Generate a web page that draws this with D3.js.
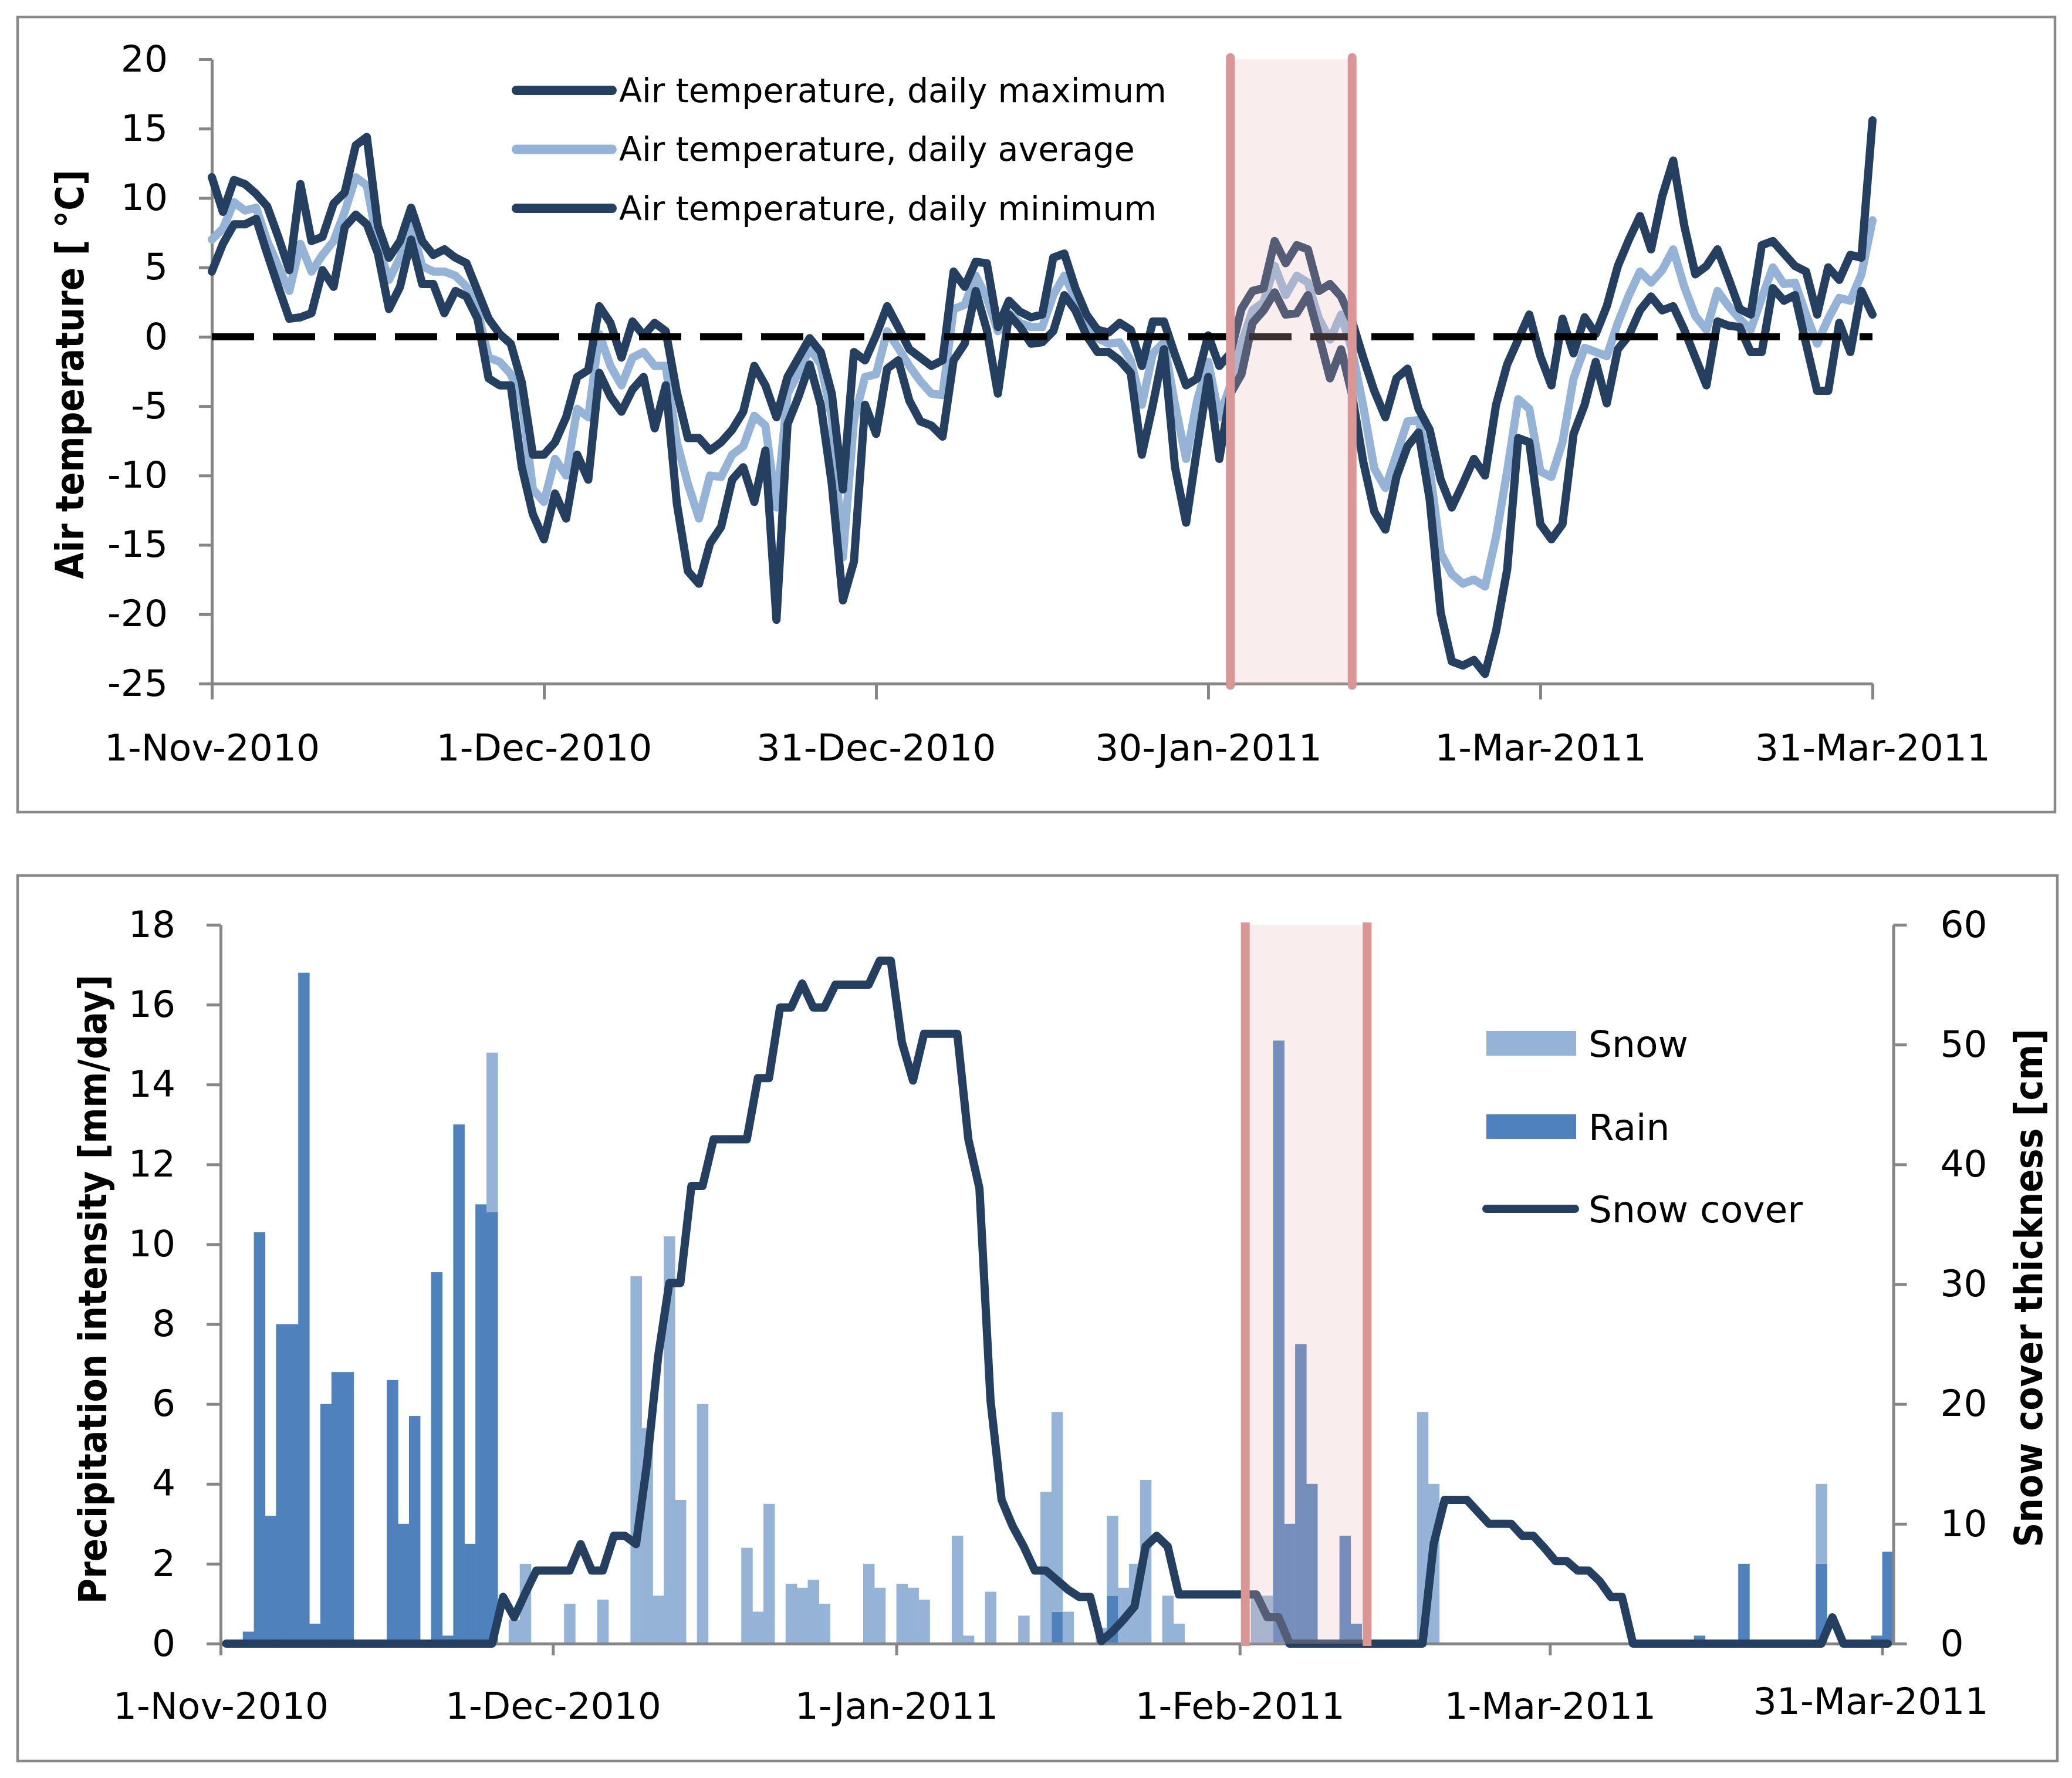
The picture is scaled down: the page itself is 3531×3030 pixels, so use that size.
<!DOCTYPE html>
<html>
<head>
<meta charset="utf-8">
<script src="https://cdn.jsdelivr.net/npm/d3@7"></script>
<style>body{margin:0;background:#fff}</style>
</head>
<body>
<svg id="chart" width="3531" height="3030"></svg>
<script>
// daily values, 1 Nov 2010 .. 31 Mar 2011 (151 days)
const tMax = [
  11.5, 9.0, 11.3, 11.0, 10.3, 9.4, 7.2, 4.8, 11.0, 6.9,
  7.2, 9.6, 10.4, 13.8, 14.4, 8.0, 5.7, 6.9, 9.3, 6.9,
  5.9, 6.3, 5.7, 5.3, 3.3, 1.3, 0.2, -0.5, -3.3, -8.5,
  -8.5, -7.6, -5.8, -2.9, -2.4, 2.2, 1.0, -1.5, 1.1, 0.1,
  1.0, 0.4, -4.0, -7.3, -7.3, -8.2, -7.6, -6.7, -5.4, -2.1,
  -3.5, -5.8, -2.9, -1.5, -0.1, -1.1, -4.1, -11.0, -1.1, -1.7,
  0.1, 2.2, 0.7, -0.9, -1.5, -2.1, -1.7, 4.7, 3.6, 5.4,
  5.3, 0.7, 2.6, 1.8, 1.4, 1.6, 5.7, 6.0, 3.5, 1.6,
  0.5, 0.3, 1.0, 0.5, -2.1, 1.1, 1.1, -1.3, -3.5, -3.0,
  0.1, -2.1, -1.2, 2.0, 3.3, 3.5, 6.9, 5.3, 6.6, 6.3,
  3.3, 3.8, 2.9, 1.1, -1.5, -3.9, -5.8, -3.0, -2.3, -5.2,
  -6.7, -10.3, -12.3, -10.6, -8.8, -10.0, -4.9, -2.0, -0.2, 1.6,
  -1.4, -3.5, 1.3, -1.2, 1.4, 0.2, 2.2, 5.1, 7.0, 8.7,
  6.3, 10.1, 12.7, 8.0, 4.5, 5.1, 6.3, 4.2, 2.0, 1.6,
  6.6, 6.9, 6.0, 5.1, 4.7, 1.6, 5.0, 4.1, 5.9, 5.7,
  15.6
];
const tAvg = [
  7.0, 7.8, 9.7, 9.1, 9.3, 6.9, 5.1, 3.3, 6.7, 4.7,
  5.9, 6.9, 9.0, 11.5, 10.9, 6.6, 4.1, 5.7, 8.1, 5.1,
  4.7, 4.7, 4.4, 3.6, 1.9, -1.5, -1.8, -2.7, -4.6, -11.0,
  -11.9, -8.8, -10.0, -5.2, -5.8, 0.2, -2.1, -3.5, -1.5, -1.1,
  -2.1, -2.1, -7.6, -10.6, -13.1, -10.0, -10.1, -8.5, -7.9, -5.7,
  -6.4, -12.3, -4.1, -2.6, -0.8, -2.0, -5.8, -15.9, -6.0, -2.9,
  -2.7, 0.4, -0.8, -2.1, -3.2, -4.1, -4.2, 2.0, 2.3, 4.4,
  2.8, 0.4, 1.7, 1.0, 0.7, 0.7, 3.0, 4.4, 2.8, 0.7,
  -0.1, -0.5, -0.4, -1.7, -4.9, -1.2, -0.4, -4.9, -8.8, -4.6,
  -1.8, -5.8, -3.5, -0.5, 1.9, 2.5, 5.1, 3.0, 4.4, 3.9,
  1.3, -0.2, 1.6, -1.0, -5.0, -9.5, -10.9, -8.5, -6.1, -6.0,
  -9.5, -15.6, -17.1, -17.8, -17.5, -18.0, -14.4, -9.7, -4.5, -5.2,
  -9.7, -10.1, -7.6, -3.0, -0.8, -1.1, -1.4, 1.0, 3.0, 4.7,
  3.9, 4.8, 6.3, 3.6, 1.5, 0.5, 3.3, 2.2, 1.3, 0.5,
  2.8, 5.0, 3.8, 3.9, 1.6, -0.5, 1.3, 2.8, 2.6, 4.5,
  8.4
];
const tMin = [
  4.7, 6.7, 8.1, 8.1, 8.5, 6.0, 3.6, 1.3, 1.4, 1.7,
  4.8, 3.6, 7.9, 8.8, 8.1, 6.0, 2.0, 3.6, 7.0, 3.8,
  3.8, 1.7, 3.3, 2.9, 1.3, -3.0, -3.5, -3.5, -9.4, -12.8,
  -14.6, -11.3, -13.1, -8.5, -10.3, -2.6, -4.3, -5.4, -3.8, -2.9,
  -6.6, -3.5, -12.0, -16.9, -17.8, -14.9, -13.7, -10.3, -9.4, -11.9,
  -8.2, -20.4, -6.3, -4.3, -2.0, -4.9, -10.6, -19.0, -16.2, -4.9,
  -7.0, -2.3, -1.7, -4.6, -6.1, -6.4, -7.2, -1.7, -0.5, 3.3,
  0.5, -4.1, 1.6, 0.7, -0.5, -0.4, 0.4, 3.0, 1.9, 0.1,
  -1.1, -1.1, -1.7, -2.6, -8.5, -4.9, -0.9, -9.4, -13.4, -8.0,
  -2.9, -8.8, -4.1, -2.7, 1.0, 1.9, 3.2, 1.6, 1.7, 3.0,
  0.1, -3.0, -0.9, -4.2, -9.0, -12.6, -13.9, -10.1, -7.9, -6.9,
  -11.7, -19.9, -23.4, -23.7, -23.3, -24.3, -21.2, -16.8, -7.3, -7.6,
  -13.5, -14.6, -13.5, -7.0, -4.9, -1.8, -4.8, -0.9, 0.1, 1.9,
  2.9, 1.9, 2.2, 0.5, -1.5, -3.5, 1.1, 0.8, 0.7, -1.1,
  -1.1, 3.5, 2.6, 3.0, -0.5, -3.9, -3.9, 1.0, -1.1, 3.3,
  1.6
];

// precipitation [mm/day]
const rain = [
  0, 0, 0.3, 10.3, 3.2, 8.0, 8.0, 16.8, 0.5, 6.0,
  6.8, 6.8, 0, 0, 0, 6.6, 3.0, 5.7, 0, 9.3,
  0.2, 13.0, 2.5, 11.0, 10.8, 0, 0, 0, 0, 0,
  0, 0, 0, 0, 0, 0, 0, 0, 0, 0,
  0, 0, 0, 0, 0, 0, 0, 0, 0, 0,
  0, 0, 0, 0, 0, 0, 0, 0, 0, 0,
  0, 0, 0, 0, 0, 0, 0, 0, 0, 0,
  0, 0, 0, 0, 0, 0.8, 0, 0, 0, 0,
  1.2, 0, 0, 0, 0, 0, 0, 0, 0, 0,
  0, 0, 0, 0, 0, 15.1, 3.0, 7.5, 4.0, 0,
  0, 2.7, 0.5, 0, 0, 0, 0, 0, 0, 0,
  0, 0, 0, 0, 0, 0, 0, 0, 0, 0,
  0, 0, 0, 0, 0, 0, 0, 0, 0, 0,
  0, 0, 0, 0.2, 0, 0, 0, 2.0, 0, 0,
  0, 0, 0, 0, 2.0, 0, 0, 0, 0, 0.2,
  2.3
];
const snow = [
  0, 0, 0, 0, 0, 0, 0, 0, 0, 0,
  0, 0, 0, 0, 0, 0, 0, 0, 0, 0,
  0, 0, 0, 0, 4.0, 0, 0.6, 2.0, 0, 0,
  0, 1.0, 0, 0, 1.1, 0, 0, 9.2, 5.4, 1.2,
  10.2, 3.6, 0, 6.0, 0, 0, 0, 2.4, 0.8, 3.5,
  0, 1.5, 1.4, 1.6, 1.0, 0, 0, 0, 2.0, 1.4,
  0, 1.5, 1.4, 1.1, 0, 0, 2.7, 0.2, 0, 1.3,
  0, 0, 0.7, 0, 3.8, 5.0, 0.8, 0, 0, 0.4,
  2.0, 1.4, 2.0, 4.1, 0, 1.2, 0.5, 0, 0, 0,
  0, 0, 0, 1.2, 1.2, 0, 0, 0, 0, 0,
  0, 0, 0, 0, 0, 0, 0, 0, 5.8, 4.0,
  0, 0, 0, 0, 0, 0, 0, 0, 0, 0,
  0, 0, 0, 0, 0, 0, 0, 0, 0, 0,
  0, 0, 0, 0, 0, 0, 0, 0, 0, 0,
  0, 0, 0, 0, 2.0, 0, 0, 0, 0, 0,
  0
];
// snow cover thickness [cm]
const snowCover = [
  0, 0, 0, 0, 0, 0, 0, 0, 0, 0,
  0, 0, 0, 0, 0, 0, 0, 0, 0, 0,
  0, 0, 0, 0, 0, 3.9, 2.2, 4.2, 6.1, 6.1,
  6.1, 6.1, 8.3, 6.1, 6.1, 9.0, 9.0, 8.3, 15.1, 24.0,
  30.1, 30.1, 38.2, 38.2, 42.1, 42.1, 42.1, 42.1, 47.2, 47.2,
  53.1, 53.1, 55.1, 53.1, 53.1, 55.0, 55.0, 55.0, 55.0, 57.0,
  57.0, 50.2, 47.0, 50.9, 50.9, 50.9, 50.9, 42.1, 38.0, 20.3,
  12.0, 9.8, 8.1, 6.1, 6.1, 5.3, 4.5, 3.9, 3.9, 0.2,
  1.0, 2.0, 3.1, 8.1, 9.0, 8.1, 4.1, 4.1, 4.1, 4.1,
  4.1, 4.1, 4.1, 4.1, 2.2, 2.2, 0, 0, 0, 0,
  0, 0, 0, 0, 0, 0, 0, 0, 0, 8.3,
  12.0, 12.0, 12.0, 11.0, 10.0, 10.0, 10.0, 9.0, 9.0, 8.0,
  6.9, 6.9, 6.1, 6.1, 5.2, 3.9, 3.9, 0, 0, 0,
  0, 0, 0, 0, 0, 0, 0, 0, 0, 0,
  0, 0, 0, 0, 0, 2.2, 0, 0, 0, 0,
  0
];

const topTickDays = [0, 30, 60, 90, 120, 150];
const topTickLabels = ["1-Nov-2010", "1-Dec-2010", "31-Dec-2010", "30-Jan-2011", "1-Mar-2011", "31-Mar-2011"];
const botTickDays = [0, 30, 61, 92, 120, 150];
const botTickLabels = ["1-Nov-2010", "1-Dec-2010", "1-Jan-2011", "1-Feb-2011", "1-Mar-2011", "31-Mar-2011"];
const tempTicks = d3.range(-25, 21, 5);
const precipTicks = d3.range(0, 19, 2);
const coverTicks = d3.range(0, 61, 10);
const bandDays = [92, 103];   // 1 Feb .. 12 Feb
const tempLegend = ["Air temperature, daily maximum", "Air temperature, daily average", "Air temperature, daily minimum"];
const precipLegend = ["Snow", "Rain", "Snow cover"];

const grey = "#868686", navy = "#243F60", light = "#95B3D7", rainCol = "#4F81BD";
const bandLine = "#D99694", bandFill = "#E6B9B8";
const tickFont = "'DejaVu Sans', sans-serif";
const titleFont = "'DejaVu Sans Condensed', 'DejaVu Sans', sans-serif";
const plain = d => String(d);   // keep the hyphen minus of the original

const svg = d3.select("#chart");
svg.append("rect").attr("width", 3531).attr("height", 3030).attr("fill", "#fff");

// panel frames
svg.append("rect").attr("x", 30).attr("y", 29).attr("width", 3472).attr("height", 1355)
  .attr("fill", "none").attr("stroke", "#898989").attr("stroke-width", 4.5);
svg.append("rect").attr("x", 30).attr("y", 1492).attr("width", 3476).attr("height", 1509)
  .attr("fill", "none").attr("stroke", "#898989").attr("stroke-width", 4.5);

function styleAxis(g) {
  g.attr("font-family", tickFont).attr("font-size", 63);
  g.select(".domain").attr("stroke", grey).attr("stroke-width", 5);
  g.selectAll(".tick line").attr("stroke", grey).attr("stroke-width", 5);
  g.selectAll(".tick text").attr("fill", "#000");
}

function axisTitle(g, x, y, txt) {
  g.append("text")
    .attr("transform", `translate(${x},${y}) rotate(-90)`)
    .attr("text-anchor", "middle").attr("dy", "0.35em")
    .attr("font-family", titleFont).attr("font-stretch", "condensed")
    .attr("font-weight", "bold").attr("font-size", 65)
    .text(txt);
}

// ---------- top: air temperature ----------
const xT = d3.scaleLinear().domain([0, 150]).range([361, 3191]);
const yT = d3.scaleLinear().domain([-25, 20]).range([1165, 101]);
const gTop = svg.append("g");

gTop.append("g").attr("transform", "translate(361,0)")
  .call(d3.axisLeft(yT).tickValues(tempTicks).tickFormat(plain).tickSize(22).tickSizeOuter(0).tickPadding(53))
  .call(styleAxis);
gTop.append("g").attr("transform", "translate(0,1165)")
  .call(d3.axisBottom(xT).tickValues(topTickDays).tickFormat((d, i) => topTickLabels[i])
    .tickSize(27).tickSizeOuter(0).tickPadding(59))
  .call(styleAxis);

const lineT = d3.line().x((d, i) => xT(i)).y(d => yT(d));
[[tAvg, light], [tMax, navy], [tMin, navy]].forEach(([arr, c]) => {
  gTop.append("path").attr("d", lineT(arr))
    .attr("fill", "none").attr("stroke", c).attr("stroke-width", 14)
    .attr("stroke-linejoin", "round").attr("stroke-linecap", "round");
});

gTop.append("line")
  .attr("x1", xT(0)).attr("x2", xT(150)).attr("y1", yT(0)).attr("y2", yT(0))
  .attr("stroke", "#000").attr("stroke-width", 12).attr("stroke-dasharray", "72 32");

gTop.append("rect")
  .attr("x", xT(bandDays[0])).attr("width", xT(bandDays[1]) - xT(bandDays[0]))
  .attr("y", yT(20)).attr("height", yT(-25) - yT(20))
  .attr("fill", bandFill).attr("fill-opacity", 0.25);
bandDays.forEach(d => {
  gTop.append("line").attr("x1", xT(d)).attr("x2", xT(d)).attr("y1", yT(20) - 3).attr("y2", yT(-25) + 3)
    .attr("stroke", bandLine).attr("stroke-width", 15).attr("stroke-linecap", "round");
});

tempLegend.forEach((t, i) => {
  const y = 154 + i * 100.5;
  gTop.append("line").attr("x1", 880).attr("x2", 1043).attr("y1", y).attr("y2", y)
    .attr("stroke", i === 1 ? light : navy).attr("stroke-width", 16).attr("stroke-linecap", "round");
  gTop.append("text").attr("x", 1055).attr("y", y).attr("dy", "0.35em")
    .attr("font-family", tickFont).attr("font-size", 57).text(t);
});

axisTitle(gTop, 119, 638, "Air temperature [ °C]");

// ---------- bottom: precipitation and snow cover ----------
const xB = d3.scaleLinear().domain([0, 151]).range([376, 3226.5]);
const yB = d3.scaleLinear().domain([0, 18]).range([2801, 1576]);
const yC = d3.scaleLinear().domain([0, 60]).range([2801, 1576]);
const gBot = svg.append("g");

const table = rain.map((r, i) => ({ day: i, rain: r, snow: snow[i] }));
const stacked = d3.stack().keys(["rain", "snow"])(table);
gBot.selectAll("g.layer").data(stacked).join("g").attr("class", "layer")
  .attr("fill", d => d.key === "rain" ? rainCol : light)
  .selectAll("rect").data(d => d.filter(s => s[1] > s[0])).join("rect")
  .attr("x", s => xB(s.data.day))
  .attr("width", xB(1) - xB(0) + 0.6)
  .attr("y", s => yB(s[1]))
  .attr("height", s => yB(s[0]) - yB(s[1]));

gBot.append("g").attr("transform", "translate(376,0)")
  .call(d3.axisLeft(yB).tickValues(precipTicks).tickFormat(plain).tickSize(24).tickSizeOuter(0).tickPadding(53))
  .call(styleAxis);
gBot.append("g").attr("transform", "translate(3226.5,0)")
  .call(d3.axisRight(yC).tickValues(coverTicks).tickFormat(plain).tickSize(23).tickSizeOuter(0).tickPadding(57))
  .call(styleAxis);
const xAxisB = gBot.append("g").attr("transform", "translate(0,2801)")
  .call(d3.axisBottom(xB).tickValues(botTickDays).tickFormat((d, i) => botTickLabels[i])
    .tickSize(20).tickSizeOuter(0).tickPadding(63))
  .call(styleAxis);
// last date label sits a little left and higher, as in the original
xAxisB.selectAll(".tick text").filter((d, i) => i === botTickDays.length - 1)
  .attr("dx", -20).attr("y", 75);

const lineC = d3.line().x((d, i) => xB(i + 0.5)).y(d => yC(d));
gBot.append("path").attr("d", lineC(snowCover))
  .attr("fill", "none").attr("stroke", navy).attr("stroke-width", 14)
  .attr("stroke-linejoin", "round").attr("stroke-linecap", "round");

gBot.append("rect")
  .attr("x", xB(bandDays[0] + 0.5)).attr("width", xB(bandDays[1]) - xB(bandDays[0]))
  .attr("y", yB(18)).attr("height", yB(0) - yB(18))
  .attr("fill", bandFill).attr("fill-opacity", 0.25);
bandDays.forEach(d => {
  gBot.append("line").attr("x1", xB(d + 0.5)).attr("x2", xB(d + 0.5)).attr("y1", yB(18) - 4).attr("y2", yB(0) + 4)
    .attr("stroke", bandLine).attr("stroke-width", 15);
});

// legend
const legY = [1778, 1920, 2060];
precipLegend.forEach((t, i) => {
  if (i < 2) {
    gBot.append("rect").attr("x", 2533).attr("width", 153).attr("y", legY[i] - 21).attr("height", 42)
      .attr("fill", i === 0 ? light : rainCol);
  } else {
    gBot.append("line").attr("x1", 2533).attr("x2", 2684).attr("y1", legY[i]).attr("y2", legY[i])
      .attr("stroke", navy).attr("stroke-width", 14).attr("stroke-linecap", "round");
  }
  gBot.append("text").attr("x", 2707).attr("y", legY[i]).attr("dy", "0.36em")
    .attr("font-family", tickFont).attr("font-size", 63).text(t);
});

axisTitle(gBot, 158, 2197, "Precipitation intensity [mm/day]");
axisTitle(gBot, 3457, 2195, "Snow cover thickness [cm]");
</script>
</body>
</html>
